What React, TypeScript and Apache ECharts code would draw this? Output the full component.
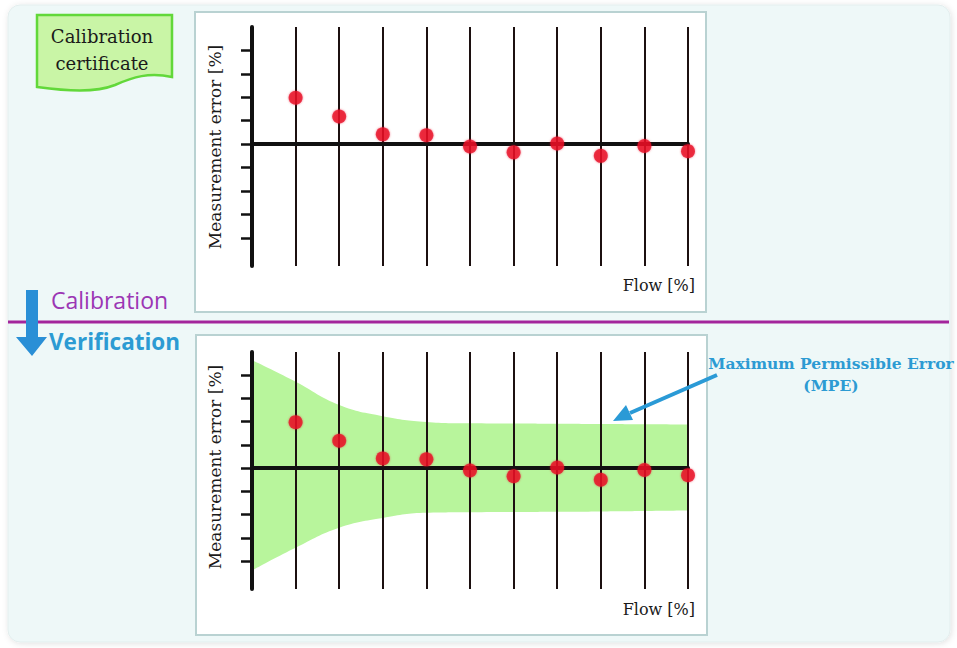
import React, { useEffect, useRef } from "react";
import * as echarts from "echarts";

// Flow positions (category slots along the flow axis; 0 = y-axis)
const flowPositions = [1, 2, 3, 4, 5, 6, 7, 8, 9, 10];
// Measurement error readings [%] (same readings in both panels)
const measurementErrors = [1.98, 1.18, 0.42, 0.38, -0.1, -0.35, 0.03, -0.5, -0.08, -0.3];
// MPE envelope, from flow position 0 to 10
const mpeX = [0, 1, 2, 3, 4, 5, 6, 7, 8, 9, 10];
const mpeUpper = [4.65, 3.72, 2.72, 2.24, 1.99, 1.93, 1.92, 1.91, 1.9, 1.89, 1.88];
const mpeLower = [-4.4, -3.42, -2.56, -2.14, -1.92, -1.9, -1.89, -1.88, -1.86, -1.84, -1.82];
// y-axis tick values
const yTicks = [-4, -3, -2, -1, 0, 1, 2, 3, 4];

const axisTitle = "Measurement error [%]";
const flowTitle = "Flow [%]";

const SERIF = '"DejaVu Serif", serif';
const SANS = '"Open Sans", sans-serif';

echarts.graphic.registerShape(
  "docShape",
  echarts.graphic.extendPath(
    "M0 0 L135 0 L135 62 C112 57 96 62 78 70 C58 78 30 76 0 72 Z",
    {}
  )
);

function makeXAxis(gridIndex: number) {
  return {
    type: "value",
    gridIndex,
    min: 0,
    max: 10,
    interval: 1,
    z: 3,
    axisLine: { show: true, onZero: true, lineStyle: { color: "#111", width: 4 } },
    axisTick: { show: false },
    axisLabel: { show: false },
    splitLine: { show: true, lineStyle: { color: "#1c1010", width: 2 } },
  };
}

function makeYAxis(gridIndex: number) {
  return {
    type: "value",
    gridIndex,
    min: -5.2,
    max: 5,
    z: 4,
    axisLine: { show: true, onZero: true, lineStyle: { color: "#111", width: 4 } },
    axisTick: {
      show: true,
      inside: false,
      length: 11,
      customValues: yTicks,
      lineStyle: { color: "#111", width: 2.5 },
    },
    axisLabel: { show: false, customValues: yTicks },
    splitLine: { show: false },
  };
}

export default function App() {
  const ref = useRef<HTMLDivElement>(null);

  useEffect(() => {
    if (!ref.current) return;
    const chart = echarts.init(ref.current, null, { renderer: "svg" });

    const dots = flowPositions.map((x, i) => [x, measurementErrors[i]]);
    const upper = mpeX.map((x, i) => [x, mpeUpper[i]]);
    const lower = mpeX.map((x, i) => [x, mpeLower[i]]);

    const dotStyle = {
      color: "#e80f26",
      shadowBlur: 2,
      shadowColor: "rgba(230,0,40,0.6)",
    };

    const green = "#b8f59c";

    const option: any = {
      animation: false,
      backgroundColor: "#ffffff",
      grid: [
        { left: 252, right: 269, top: 27, bottom: 382, containLabel: false },
        { left: 252, right: 269, top: 352, bottom: 59, containLabel: false },
      ],
      xAxis: [makeXAxis(0), makeXAxis(1)],
      yAxis: [makeYAxis(0), makeYAxis(1)],
      series: [
        {
          type: "scatter",
          xAxisIndex: 0,
          yAxisIndex: 0,
          data: dots,
          symbolSize: 14,
          itemStyle: dotStyle,
          z: 5,
        },
        {
          type: "line",
          xAxisIndex: 1,
          yAxisIndex: 1,
          data: upper,
          smooth: 0.45,
          symbol: "none",
          lineStyle: { width: 0 },
          areaStyle: { color: green, opacity: 1, origin: 0 },
          z: 2,
        },
        {
          type: "line",
          xAxisIndex: 1,
          yAxisIndex: 1,
          data: lower,
          smooth: 0.45,
          symbol: "none",
          lineStyle: { width: 0 },
          areaStyle: { color: green, opacity: 1, origin: 0 },
          z: 2,
        },
        {
          type: "scatter",
          xAxisIndex: 1,
          yAxisIndex: 1,
          data: dots,
          symbolSize: 14,
          itemStyle: dotStyle,
          z: 5,
        },
      ],
      graphic: {
        elements: [
          {
            type: "rect",
            z: 0,
            shape: { x: 8, y: 5, width: 942, height: 637, r: 12 },
            style: {
              fill: "#eef8f8",
              stroke: "#e3eeee",
              lineWidth: 1,
              shadowBlur: 6,
              shadowColor: "rgba(0,0,0,0.12)",
              shadowOffsetX: 1,
              shadowOffsetY: 1,
            },
          },
          {
            type: "rect",
            z: 1,
            shape: { x: 195, y: 12, width: 511, height: 300 },
            style: { fill: "#ffffff", stroke: "#b9d2d2", lineWidth: 2 },
          },
          {
            type: "rect",
            z: 1,
            shape: { x: 196, y: 335, width: 511, height: 300 },
            style: { fill: "#ffffff", stroke: "#b9d2d2", lineWidth: 2 },
          },
          {
            type: "docShape",
            z: 1,
            x: 37,
            y: 15,
            style: { fill: "#c9f5a6", stroke: "#62d83a", lineWidth: 2.5 },
          },
          {
            type: "text",
            z: 10,
            x: 102,
            y: 36,
            style: {
              text: "Calibration",
              fontFamily: SERIF,
              fontSize: 18,
              fill: "#1a1a1a",
              align: "center",
              verticalAlign: "middle",
            },
          },
          {
            type: "text",
            z: 10,
            x: 102,
            y: 63,
            style: {
              text: "certificate",
              fontFamily: SERIF,
              fontSize: 18,
              fill: "#1a1a1a",
              align: "center",
              verticalAlign: "middle",
            },
          },
          {
            type: "line",
            z: 1,
            shape: { x1: 8, y1: 322, x2: 949, y2: 322 },
            style: { stroke: "#a3259c", lineWidth: 3 },
          },
          {
            type: "polygon",
            z: 2,
            shape: {
              points: [
                [26, 290],
                [38, 290],
                [38, 337],
                [47, 337],
                [32, 356],
                [16, 337],
                [26, 337],
              ],
            },
            style: { fill: "#2a8fd6" },
          },
          {
            type: "text",
            z: 10,
            x: 51,
            y: 300,
            style: {
              text: "Calibration",
              fontFamily: SANS,
              fontSize: 23,
              fill: "#9b36b4",
              align: "left",
              verticalAlign: "middle",
            },
          },
          {
            type: "text",
            z: 10,
            x: 49,
            y: 341,
            style: {
              text: "Verification",
              fontFamily: SANS,
              fontSize: 22.5,
              fontWeight: "bold",
              fill: "#2c9bd3",
              align: "left",
              verticalAlign: "middle",
            },
          },
          {
            type: "text",
            z: 10,
            x: 215,
            y: 147,
            rotation: Math.PI / 2,
            style: {
              text: axisTitle,
              fontFamily: SERIF,
              fontSize: 17,
              fill: "#1a1a1a",
              align: "center",
              verticalAlign: "middle",
            },
          },
          {
            type: "text",
            z: 10,
            x: 215,
            y: 467,
            rotation: Math.PI / 2,
            style: {
              text: axisTitle,
              fontFamily: SERIF,
              fontSize: 17,
              fill: "#1a1a1a",
              align: "center",
              verticalAlign: "middle",
            },
          },
          {
            type: "text",
            z: 10,
            x: 695,
            y: 285,
            style: {
              text: flowTitle,
              fontFamily: SERIF,
              fontSize: 16,
              fill: "#1a1a1a",
              align: "right",
              verticalAlign: "middle",
            },
          },
          {
            type: "text",
            z: 10,
            x: 695,
            y: 609,
            style: {
              text: flowTitle,
              fontFamily: SERIF,
              fontSize: 16,
              fill: "#1a1a1a",
              align: "right",
              verticalAlign: "middle",
            },
          },
          {
            type: "text",
            z: 10,
            x: 831,
            y: 363,
            style: {
              text: "Maximum Permissible Error",
              fontFamily: SERIF,
              fontSize: 15.5,
              fontWeight: "bold",
              fill: "#2c9bd3",
              align: "center",
              verticalAlign: "middle",
            },
          },
          {
            type: "text",
            z: 10,
            x: 831,
            y: 385,
            style: {
              text: "(MPE)",
              fontFamily: SERIF,
              fontSize: 15.5,
              fontWeight: "bold",
              fill: "#2c9bd3",
              align: "center",
              verticalAlign: "middle",
            },
          },
          {
            type: "line",
            z: 10,
            shape: { x1: 717, y1: 375, x2: 630, y2: 413 },
            style: { stroke: "#2a9ad6", lineWidth: 4 },
          },
          {
            type: "polygon",
            z: 10,
            shape: {
              points: [
                [613, 421],
                [633, 420],
                [626, 405],
              ],
            },
            style: { fill: "#2a9ad6" },
          },
        ],
      },
    };

    chart.setOption(option);
    return () => chart.dispose();
  }, []);

  return (
    <div
      ref={ref}
      style={{ position: "fixed", left: 0, top: 0, width: 957, height: 648 }}
    />
  );
}
